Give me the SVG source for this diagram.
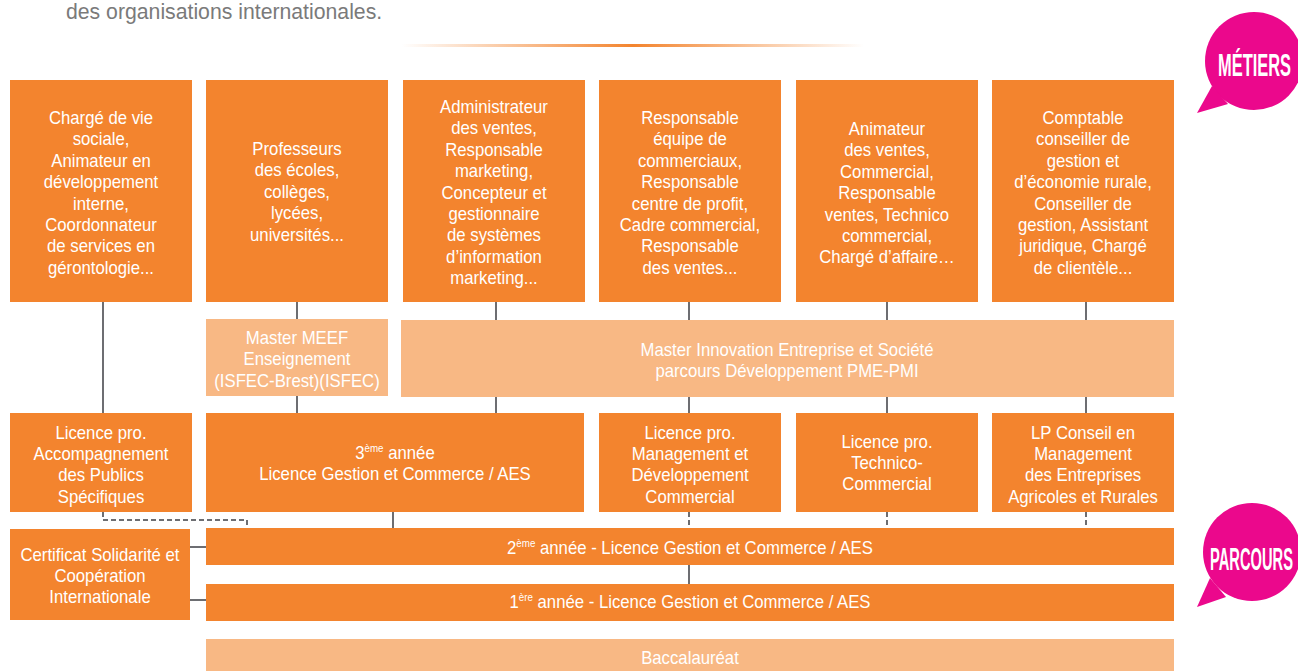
<svg xmlns="http://www.w3.org/2000/svg" width="1298" height="671" viewBox="0 0 1298 671">
<defs>
<style>
.o{fill:#f3842e}
.l{fill:#f8b884}
.t{fill:#ffffff;font-family:"Liberation Sans",Arial,sans-serif;font-size:18px;text-anchor:middle;transform-box:fill-box;transform-origin:center;transform:scaleX(0.93)}
.sup{font-size:10.5px}
.c{stroke:#6d6e72;stroke-width:2;fill:none}
.d{stroke:#6d6e72;stroke-width:2;fill:none;stroke-dasharray:5 3}
.b{fill:#eb088c}
.bt{fill:#ffffff;font-family:"Liberation Sans",Arial,sans-serif;font-weight:bold;font-size:32px}
.g{fill:#7a7a7a;font-family:"Liberation Sans",Arial,sans-serif;font-size:22px;transform-box:fill-box;transform-origin:left center;transform:scaleX(0.965)}
</style>
<linearGradient id="gl" x1="0" y1="0" x2="1" y2="0">
<stop offset="0" stop-color="#f3842e" stop-opacity="0"/>
<stop offset="0.5" stop-color="#f3842e" stop-opacity="1"/>
<stop offset="1" stop-color="#f3842e" stop-opacity="0"/>
</linearGradient>
</defs>
<rect width="1298" height="671" fill="#ffffff"/>
<text class="g" x="66" y="19">des organisations internationales.</text>
<rect x="402" y="44" width="462" height="3" fill="url(#gl)"/>

<g id="connectors">
<path class="c" d="M103 302V413"/>
<path class="c" d="M297 302V319M297 396V413"/>
<path class="c" d="M496 302V320M496 396V413"/>
<path class="c" d="M689 302V320M689 396V413"/>
<path class="c" d="M887 302V320M887 396V413"/>
<path class="c" d="M1086 302V320M1086 396V413"/>
<path class="d" d="M103 512V520H247V528"/>
<path class="c" d="M393 512V528"/>
<path class="d" d="M689 512V528"/>
<path class="d" d="M887 512V528"/>
<path class="d" d="M1086 512V528"/>
<path class="c" d="M689 565V584"/>
<path class="c" d="M190 547H206M190 600H206"/>
</g>

<g id="m1"><rect class="o" x="10" y="80" width="182" height="222"/>
<text class="t" x="101" y="124"><tspan x="101">Chargé de vie</tspan><tspan x="101" dy="21.4">sociale,</tspan><tspan x="101" dy="21.4">Animateur en</tspan><tspan x="101" dy="21.4">développement</tspan><tspan x="101" dy="21.4">interne,</tspan><tspan x="101" dy="21.4">Coordonnateur</tspan><tspan x="101" dy="21.4">de services en</tspan><tspan x="101" dy="21.4">gérontologie...</tspan></text></g>
<g id="m2"><rect class="o" x="206" y="80" width="182" height="222"/>
<text class="t" x="297" y="155"><tspan x="297">Professeurs</tspan><tspan x="297" dy="21.4">des écoles,</tspan><tspan x="297" dy="21.4">collèges,</tspan><tspan x="297" dy="21.4">lycées,</tspan><tspan x="297" dy="21.4">universités...</tspan></text></g>
<g id="m3"><rect class="o" x="403" y="80" width="182" height="222"/>
<text class="t" x="494" y="113"><tspan x="494">Administrateur</tspan><tspan x="494" dy="21.4">des ventes,</tspan><tspan x="494" dy="21.4">Responsable</tspan><tspan x="494" dy="21.4">marketing,</tspan><tspan x="494" dy="21.4">Concepteur et</tspan><tspan x="494" dy="21.4">gestionnaire</tspan><tspan x="494" dy="21.4">de systèmes</tspan><tspan x="494" dy="21.4">d’information</tspan><tspan x="494" dy="21.4">marketing...</tspan></text></g>
<g id="m4"><rect class="o" x="599" y="80" width="182" height="222"/>
<text class="t" x="690" y="124"><tspan x="690">Responsable</tspan><tspan x="690" dy="21.4">équipe de</tspan><tspan x="690" dy="21.4">commerciaux,</tspan><tspan x="690" dy="21.4">Responsable</tspan><tspan x="690" dy="21.4">centre de profit,</tspan><tspan x="690" dy="21.4">Cadre commercial,</tspan><tspan x="690" dy="21.4">Responsable</tspan><tspan x="690" dy="21.4">des ventes...</tspan></text></g>
<g id="m5"><rect class="o" x="796" y="80" width="182" height="222"/>
<text class="t" x="887" y="135"><tspan x="887">Animateur</tspan><tspan x="887" dy="21.4">des ventes,</tspan><tspan x="887" dy="21.4">Commercial,</tspan><tspan x="887" dy="21.4">Responsable</tspan><tspan x="887" dy="21.4">ventes, Technico</tspan><tspan x="887" dy="21.4">commercial,</tspan><tspan x="887" dy="21.4">Chargé d’affaire…</tspan></text></g>
<g id="m6"><rect class="o" x="992" y="80" width="182" height="222"/>
<text class="t" x="1083" y="124"><tspan x="1083">Comptable</tspan><tspan x="1083" dy="21.4">conseiller de</tspan><tspan x="1083" dy="21.4">gestion et</tspan><tspan x="1083" dy="21.4">d’économie rurale,</tspan><tspan x="1083" dy="21.4">Conseiller de</tspan><tspan x="1083" dy="21.4">gestion, Assistant</tspan><tspan x="1083" dy="21.4">juridique, Chargé</tspan><tspan x="1083" dy="21.4">de clientèle...</tspan></text></g>

<g id="meef"><rect class="l" x="206" y="319" width="182" height="77"/>
<text class="t" x="297" y="344"><tspan x="297">Master MEEF</tspan><tspan x="297" dy="21.4">Enseignement</tspan><tspan x="297" dy="21.4">(ISFEC-Brest)(ISFEC)</tspan></text></g>
<g id="mies"><rect class="l" x="401" y="320" width="773" height="77"/>
<text class="t" x="787" y="356"><tspan x="787">Master Innovation Entreprise et Société</tspan><tspan x="787" dy="21.4">parcours Développement PME-PMI</tspan></text></g>

<g id="lpaps"><rect class="o" x="10" y="413" width="182" height="99"/>
<text class="t" x="101" y="439"><tspan x="101">Licence pro.</tspan><tspan x="101" dy="21.2">Accompagnement</tspan><tspan x="101" dy="21.2">des Publics</tspan><tspan x="101" dy="21.2">Spécifiques</tspan></text></g>
<g id="l3"><rect class="o" x="206" y="413" width="378" height="99"/>
<text class="t" x="395" y="459"><tspan x="395">3<tspan class="sup" dy="-7">ème</tspan><tspan dy="7"> année</tspan></tspan><tspan x="395" dy="21.2">Licence Gestion et Commerce / AES</tspan></text></g>
<g id="lpmdc"><rect class="o" x="599" y="413" width="182" height="99"/>
<text class="t" x="690" y="439"><tspan x="690">Licence pro.</tspan><tspan x="690" dy="21.2">Management et</tspan><tspan x="690" dy="21.2">Développement</tspan><tspan x="690" dy="21.2">Commercial</tspan></text></g>
<g id="lptc"><rect class="o" x="796" y="413" width="182" height="99"/>
<text class="t" x="887" y="448"><tspan x="887">Licence pro.</tspan><tspan x="887" dy="21.2">Technico-</tspan><tspan x="887" dy="21.2">Commercial</tspan></text></g>
<g id="lpcm"><rect class="o" x="992" y="413" width="182" height="99"/>
<text class="t" x="1083" y="439"><tspan x="1083">LP Conseil en</tspan><tspan x="1083" dy="21.2">Management</tspan><tspan x="1083" dy="21.2">des Entreprises</tspan><tspan x="1083" dy="21.2">Agricoles et Rurales</tspan></text></g>

<g id="cert"><rect class="o" x="10" y="529" width="180" height="91"/>
<text class="t" x="100" y="561"><tspan x="100">Certificat Solidarité et</tspan><tspan x="100" dy="21.2">Coopération</tspan><tspan x="100" dy="21.2">Internationale</tspan></text></g>
<g id="l2"><rect class="o" x="206" y="528" width="968" height="37"/>
<text class="t" x="690" y="554">2<tspan class="sup" dy="-7">ème</tspan><tspan dy="7"> année - Licence Gestion et Commerce / AES</tspan></text></g>
<g id="l1"><rect class="o" x="206" y="584" width="968" height="37"/>
<text class="t" x="690" y="608">1<tspan class="sup" dy="-7">ère</tspan><tspan dy="7"> année - Licence Gestion et Commerce / AES</tspan></text></g>
<g id="bac"><rect class="l" x="206" y="639" width="968" height="32"/>
<text class="t" x="690" y="664">Baccalauréat</text></g>

<g id="metiers">
<circle class="b" cx="1254" cy="61" r="49"/>
<path class="b" d="M1212 86L1197 113L1228 104Z"/>
<text class="bt" x="1218" y="76" textLength="73" lengthAdjust="spacingAndGlyphs">MÉTIERS</text>
</g>
<g id="parcours">
<circle class="b" cx="1252" cy="552" r="49"/>
<path class="b" d="M1210 578L1197 607L1226 597Z"/>
<text class="bt" x="1210" y="570" textLength="83" lengthAdjust="spacingAndGlyphs">PARCOURS</text>
</g>
</svg>
